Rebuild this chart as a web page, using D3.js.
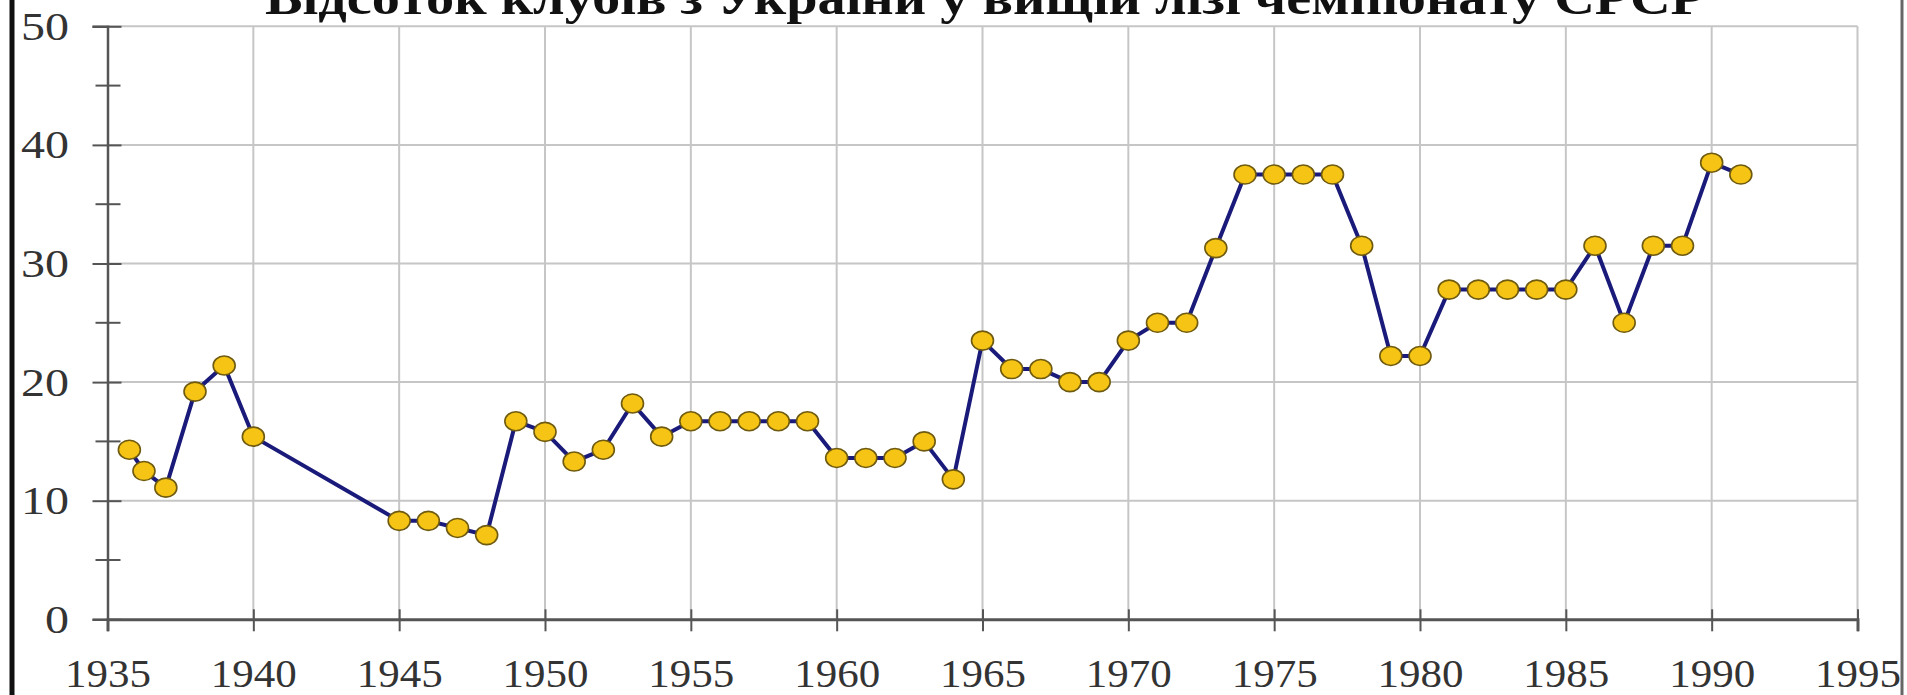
<!DOCTYPE html>
<html>
<head>
<meta charset="utf-8">
<script src="https://cdn.jsdelivr.net/npm/d3@7"></script>
<style>
  body { margin: 0; background: #fff; }
  text { font-family: "Liberation Serif", "Times New Roman", serif; }
</style>
</head>
<body>
<svg width="1907" height="695"></svg>
<script>
// data (share of Ukrainian clubs, %)
var years = [1935.75, 1936.25, 1937, 1938, 1939, 1940,
  1945, 1946, 1947, 1948, 1949, 1950, 1951, 1952, 1953, 1954,
  1955, 1956, 1957, 1958, 1959, 1960, 1961, 1962, 1963, 1964,
  1965, 1966, 1967, 1968, 1969, 1970, 1971, 1972, 1973, 1974,
  1975, 1976, 1977, 1978, 1979, 1980, 1981, 1982, 1983, 1984,
  1985, 1986, 1987, 1988, 1989, 1990, 1991];
var shares = [14.3, 12.5, 11.1, 19.2, 21.4, 15.4,
  8.3, 8.3, 7.7, 7.1, 16.7, 15.8, 13.3, 14.3, 18.2, 15.4,
  16.7, 16.7, 16.7, 16.7, 16.7, 13.6, 13.6, 13.6, 15.0, 11.8,
  23.5, 21.1, 21.1, 20.0, 20.0, 23.5, 25.0, 25.0, 31.3, 37.5,
  37.5, 37.5, 37.5, 31.5, 22.2, 22.2, 27.8, 27.8, 27.8, 27.8,
  27.8, 31.5, 25.0, 31.5, 31.5, 38.5, 37.5];
var yearTicks = d3.range(1935, 1996, 5);
var shareTicks = [0, 10, 20, 30, 40, 50];
var minorTicks = [5, 15, 25, 35, 45];
var title = "Відсоток клубів з України у вищій лізі чемпіонату СРСР";

var serif = '"Liberation Serif", "Times New Roman", serif';
var svg = d3.select('svg');
var pts = years.map(function(d, i) { return [d, shares[i]]; });

var x = d3.scaleLinear().domain([1935, 1995]).range([107.5, 1857.5]);
var y = d3.scaleLinear().domain([0, 50]).range([619.3, 26.3]);

svg.append('rect').attr('width', 1907).attr('height', 695).attr('fill', '#fff');

// frame lines at the picture edges
svg.append('line').attr('x1', 12).attr('x2', 12).attr('y1', 0).attr('y2', 695)
  .attr('stroke', '#111').attr('stroke-width', 5);
svg.append('line').attr('x1', 1902).attr('x2', 1902).attr('y1', 0).attr('y2', 695)
  .attr('stroke', '#666').attr('stroke-width', 3);

// grid
var grid = svg.append('g');
grid.selectAll('.hg').data(shareTicks.slice(1)).enter().append('line')
  .attr('x1', x(1935)).attr('x2', x(1995))
  .attr('y1', function(d) { return y(d); }).attr('y2', function(d) { return y(d); })
  .attr('stroke', '#c6c6c6').attr('stroke-width', 2);
grid.selectAll('.vg').data(yearTicks.slice(1)).enter().append('line')
  .attr('x1', function(d) { return x(d); }).attr('x2', function(d) { return x(d); })
  .attr('y1', y(0)).attr('y2', y(50))
  .attr('stroke', '#c6c6c6').attr('stroke-width', 2);

// y axis
var yAxis = svg.append('g').attr('transform', 'translate(' + x(1935) + ',0)')
  .call(d3.axisLeft(y).tickValues(shareTicks).tickSize(15).tickPadding(23.5))
  .attr('font-family', serif);
yAxis.select('.domain').attr('stroke', '#555').attr('stroke-width', 2.5);
yAxis.selectAll('.tick line').attr('x1', 14).attr('stroke', '#555').attr('stroke-width', 2);
yAxis.selectAll('.tick text')
  .attr('dy', 13).attr('font-size', 40).attr('fill', '#333')
  .attr('textLength', function(d) { return String(d).length * 24; })
  .attr('lengthAdjust', 'spacingAndGlyphs');
svg.append('g').selectAll('line').data(minorTicks).enter().append('line')
  .attr('x1', x(1935) - 12).attr('x2', x(1935) + 13)
  .attr('y1', function(d) { return y(d); }).attr('y2', function(d) { return y(d); })
  .attr('stroke', '#555').attr('stroke-width', 2);

// x axis
var xAxis = svg.append('g').attr('transform', 'translate(0,' + y(0) + ')')
  .call(d3.axisBottom(x).tickValues(yearTicks).tickFormat(d3.format('d')).tickSize(12))
  .attr('font-family', serif);
xAxis.select('.domain').attr('stroke', '#555').attr('stroke-width', 3);
xAxis.selectAll('.tick line').attr('y1', -10).attr('stroke', '#555').attr('stroke-width', 2);
xAxis.selectAll('.tick text')
  .attr('y', 68).attr('dy', 0).attr('font-size', 41).attr('fill', '#333')
  .attr('textLength', 86).attr('lengthAdjust', 'spacingAndGlyphs');

// series
var line = d3.line().x(function(d) { return x(d[0]); }).y(function(d) { return y(d[1]); });
svg.append('path').datum(pts).attr('d', line)
  .attr('fill', 'none').attr('stroke', '#1a1a7a').attr('stroke-width', 4)
  .attr('stroke-linejoin', 'round');
svg.append('g').selectAll('ellipse').data(pts).enter().append('ellipse')
  .attr('cx', function(d) { return x(d[0]); }).attr('cy', function(d) { return y(d[1]); })
  .attr('rx', 11).attr('ry', 9.5)
  .attr('fill', '#f5c414').attr('stroke', '#6e5a10').attr('stroke-width', 1.6);

// title (its top is cut off by the picture edge, as in the source)
svg.append('text').attr('x', 985).attr('y', 14)
  .attr('text-anchor', 'middle').attr('font-size', 48).attr('font-weight', 'bold')
  .attr('font-family', serif)
  .attr('fill', '#111').attr('textLength', 1440).attr('lengthAdjust', 'spacingAndGlyphs')
  .text(title);
</script>
</body>
</html>
